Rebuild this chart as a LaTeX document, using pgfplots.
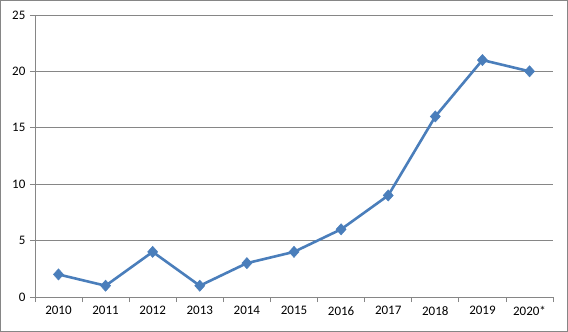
\documentclass[border=0pt]{standalone}
\usepackage{pgfplots}
\pgfplotsset{compat=1.18}
\usepackage{fontspec}
\setmainfont{Carlito}
\definecolor{exblue}{RGB}{74,126,187}
\definecolor{gridgray}{RGB}{134,134,134}
\begin{document}
\begin{tikzpicture}[x=1pt,y=1pt]
\draw[draw=gridgray, line width=0.8pt] (0.5,0.5) rectangle (567.5,331.5);
\begin{axis}[
  at={(35pt,35pt)}, anchor=south west,
  scale only axis, width=518pt, height=282pt,
  xmin=-0.5, xmax=10.5, ymin=0, ymax=25,
  axis lines=left, axis line style={draw=gridgray, line width=0.8pt, -},
  xtick={0,...,10},
  xticklabels={2010,2011,2012,2013,2014,2015,2016,2017,2018,2019,2020*},
  minor xtick={-0.5,0.5,...,10.5},
  major x tick style={draw=none},
  minor x tick style={draw=gridgray, line width=0.8pt},
  minor tick length=5pt,
  ytick={0,5,...,25},
  major tick length=5pt,
  y tick style={draw=gridgray, line width=0.8pt},
  tick align=outside,
  ymajorgrids, grid style={draw=gridgray, line width=0.8pt},
  tick label style={font=\fontsize{13}{15}\selectfont, text=black},
  xticklabel style={yshift=-1pt},
  yticklabel style={xshift=-1pt},
  /pgf/number format/assume math mode=true,
  clip=false,
]
\addplot[color=exblue, line width=2.6pt, mark=diamond*, mark size=5.6pt, mark options={fill=exblue, line width=0.5pt, xscale=1.2}]
coordinates {(0,2)(1,1)(2,4)(3,1)(4,3)(5,4)(6,6)(7,9)(8,16)(9,21)(10,20)};
\end{axis}
\end{tikzpicture}
\end{document}
